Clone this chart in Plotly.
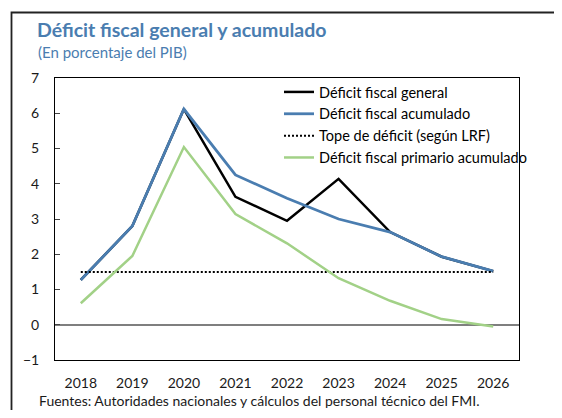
import plotly.graph_objects as go

years = ["2018", "2019", "2020", "2021", "2022", "2023", "2024", "2025", "2026"]
deficit_general = [1.27, 2.80, 6.12, 3.63, 2.95, 4.14, 2.63, 1.93, 1.52]
deficit_acumulado = [1.27, 2.80, 6.12, 4.25, 3.59, 3.00, 2.63, 1.93, 1.52]
tope_deficit = [1.5] * 9
deficit_primario = [0.61, 1.95, 5.04, 3.14, 2.31, 1.32, 0.68, 0.16, -0.05]

title = "Déficit fiscal general y acumulado"
subtitle = "(En porcentaje del PIB)"
footer = "Fuentes: Autoridades nacionales y cálculos del personal técnico del FMI."

# page has an 8px body margin; the figure is sized to fit inside the window
OFF = 8
W, H = 562 - 2 * OFF, 418 - 2 * OFF
# plot area in page pixels (as in the reference)
L, R, T, B = 55, 519, 78, 360
pw, ph = R - L, B - T


def px(x):
    return (x - L) / pw


def py(y):
    return (B - y) / ph


FONT = "Lato"
BLUE = "#4a7db0"
GREEN = "#a2d187"

fig = go.Figure()
fig.add_trace(go.Scatter(x=years, y=deficit_general, mode="lines", name="Déficit fiscal general",
                         line=dict(color="black", width=2.5), xaxis="x2"))
fig.add_trace(go.Scatter(x=years, y=deficit_acumulado, mode="lines", name="Déficit fiscal acumulado",
                         line=dict(color=BLUE, width=2.8), xaxis="x2"))
fig.add_trace(go.Scatter(x=years, y=tope_deficit, mode="lines", name="Tope de déficit (según LRF)",
                         line=dict(color="black", width=2, dash="2px,2px"), xaxis="x2"))
fig.add_trace(go.Scatter(x=years, y=deficit_primario, mode="lines", name="Déficit fiscal primario acumulado",
                         line=dict(color=GREEN, width=2.5), xaxis="x2"))

zero_pos = (0 - (-1)) / 8

fig.update_layout(
    width=W, height=H,
    margin=dict(l=L - OFF, r=W - (R - OFF), t=T - OFF, b=H - (B - OFF), pad=0, autoexpand=False),
    paper_bgcolor="white", plot_bgcolor="white",
    font=dict(family=FONT, size=14, color="#1a1a1a"),
    showlegend=True,
    legend=dict(x=px(279), y=py(76), xanchor="left", yanchor="top",
                bgcolor="rgba(0,0,0,0)", font=dict(family=FONT, size=14.5, color="black"),
                itemwidth=30, tracegroupgap=0),
    xaxis=dict(
        type="category", categoryorder="array", categoryarray=years,
        range=[-0.5, 8.5], anchor="free", position=zero_pos, overlaying="x2",
        showgrid=False, showline=False, zeroline=False, automargin=False,
        ticks="inside", tickson="boundaries", ticklen=6, tickwidth=1.3, tickcolor="#444",
        showticklabels=False,
    ),
    xaxis2=dict(
        type="category", categoryorder="array", categoryarray=years,
        range=[-0.5, 8.5], anchor="y", automargin=False,
        showgrid=False, zeroline=False,
        showline=True, mirror=True, linecolor="black", linewidth=1,
        ticks="", tickfont=dict(family=FONT, size=14, color="#1a1a1a"),
        ticklabelstandoff=10,
    ),
    yaxis=dict(
        range=[-1, 7], dtick=1, tick0=0, automargin=False,
        showgrid=False, zeroline=True, zerolinecolor="#7f7f7f", zerolinewidth=1.8,
        showline=True, mirror=True, linecolor="black", linewidth=1,
        ticks="inside", ticklen=5, tickcolor="#444",
        tickfont=dict(family=FONT, size=14, color="#1a1a1a"),
        ticklabelstandoff=12,
    ),
    shapes=[
        dict(type="rect", xref="paper", yref="paper",
             x0=px(11.5), x1=px(600), y0=py(460), y1=py(12.5),
             line=dict(color="#222", width=1.8), fillcolor="rgba(0,0,0,0)", layer="below"),
    ],
    annotations=[
        dict(text="<b>" + title + "</b>", xref="paper", yref="paper", x=px(35), y=py(30),
             xanchor="left", yanchor="middle", showarrow=False,
             font=dict(family=FONT, size=19.5, color=BLUE)),
        dict(text=subtitle, xref="paper", yref="paper", x=px(36), y=py(52),
             xanchor="left", yanchor="middle", showarrow=False,
             font=dict(family=FONT, size=15, color=BLUE)),
        dict(text=footer, xref="paper", yref="paper", x=px(37), y=py(400),
             xanchor="left", yanchor="middle", showarrow=False,
             font=dict(family=FONT, size=14, color="#1a1a1a")),
    ],
)

fig.write_html("out.html")
